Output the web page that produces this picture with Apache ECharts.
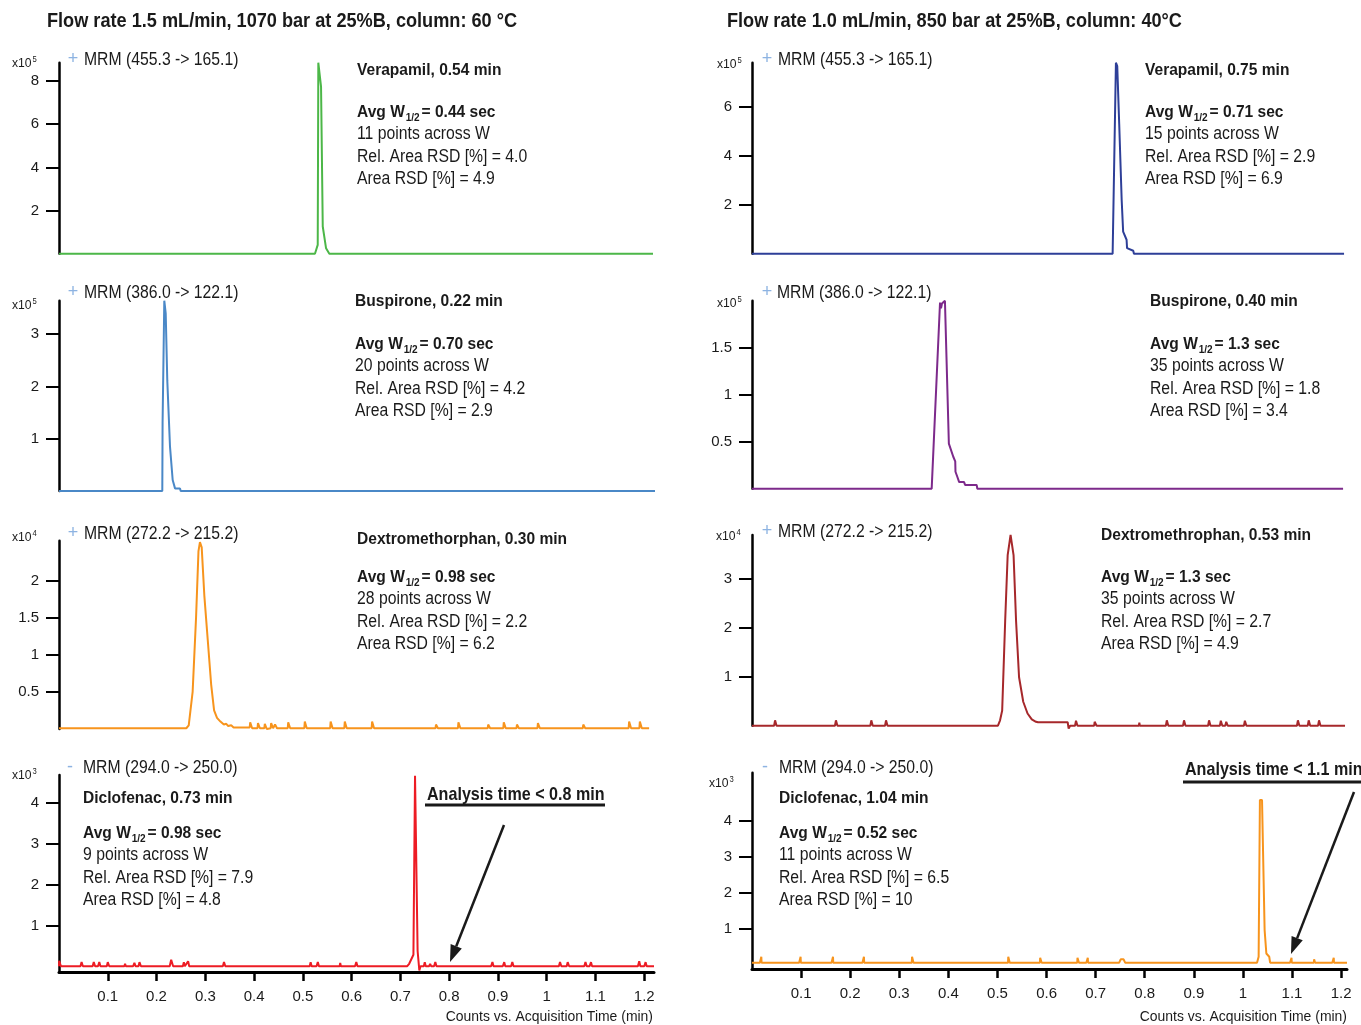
<!DOCTYPE html>
<html>
<head>
<meta charset="utf-8">
<title>MRM chromatograms</title>
<script src="https://cdn.jsdelivr.net/npm/echarts@6.0.0/dist/echarts.min.js"></script>
<style>
  html, body { margin: 0; padding: 0; background: #fff; }
  #main { width: 1361px; height: 1025px; }
</style>
</head>
<body>
<div id="main"></div>
<script>
// ---- data: [time (min), counts in the panel's x10^n unit] ----
var verapamilFast = [[0,0],[0.5248,0],[0.5305,0.41],[0.5317,8.85],[0.5373,7.74],[0.5408,1.26],[0.5476,0.25],[0.5543,0],[1.218,0]];
var verapamilSlow = [[0,0],[0.7346,0],[0.7413,7.8],[0.744,7.66],[0.748,5.3],[0.753,2.2],[0.756,0.9],[0.763,0.57],[0.764,0.23],[0.7766,0.12],[0.778,0],[1.206,0]];
var buspironeFast = [[0,0],[0.2118,0],[0.2124,1.3],[0.2159,3.64],[0.2188,3.4],[0.222,2.12],[0.2276,0.85],[0.2331,0.21],[0.2379,0.05],[0.2481,0.05],[0.2495,0],[1.222,0]];
var buspironeSlow = [[0,0],[0.366,0],[0.383,1.98],[0.385,1.92],[0.387,1.97],[0.393,2.0],[0.401,0.48],[0.410,0.34],[0.414,0.29],[0.4145,0.18],[0.418,0.13],[0.422,0.07],[0.432,0.07],[0.434,0.04],[0.4576,0.04],[0.459,0],[1.204,0]];
var dextroFast = [[0,0.01],[0.261,0.01],[0.266,0.05],[0.274,0.5],[0.281,1.5],[0.286,2.4],[0.289,2.52],[0.2926,2.45],[0.298,1.8],[0.305,1.2],[0.312,0.6],[0.318,0.25],[0.324,0.15],[0.331,0.1],[0.334,0.12],[0.338,0.06],[0.343,0.07],[0.347,0.04],[0.353,0.05],[0.358,0.02],
  [0.391,0.02],[0.392,0.09],[0.396,0.01],[0.407,0.01],[0.408,0.08],[0.412,0.01],[0.421,0.01],[0.422,0.07],[0.426,0],[0.434,0.01],[0.435,0.08],[0.439,0.01],
  [0.442,0.01],[0.443,0.06],[0.447,0.01],[0.469,0.01],[0.470,0.09],[0.474,0.01],[0.503,0.01],[0.504,0.1],[0.508,0.01],[0.556,0.01],[0.557,0.1],[0.561,0.01],
  [0.585,0.01],[0.586,0.1],[0.590,0.01],[0.641,0.01],[0.642,0.1],[0.646,0.01],[0.772,0.01],[0.773,0.06],[0.777,0.01],[0.818,0.01],[0.819,0.09],[0.823,0.01],
  [0.879,0.01],[0.880,0.06],[0.884,0.01],[0.911,0.01],[0.912,0.09],[0.916,0.01],[0.938,0.01],[0.939,0.06],[0.943,0.01],[0.981,0.01],[0.982,0.08],[0.986,0.01],
  [1.074,0.01],[1.075,0.06],[1.079,0.01],[1.168,0.01],[1.169,0.1],[1.173,0.01],[1.190,0.01],[1.191,0.1],[1.195,0.01],[1.21,0.01]];
var dextroSlow = [[0,0],[0.045,0],[0.047,0.11],[0.050,0],[0.169,0],[0.171,0.11],[0.174,0],[0.241,0],[0.243,0.11],[0.246,0],[0.271,0],[0.273,0.11],[0.276,0],
  [0.501,0],[0.5053,0.11],[0.5096,0.31],[0.5157,2.14],[0.5208,3.49],[0.5267,3.9],[0.5328,3.49],[0.5379,2.14],[0.544,0.99],[0.5525,0.49],[0.5613,0.25],[0.5699,0.13],[0.5784,0.08],[0.5827,0.07],[0.643,0.07],[0.645,-0.06],[0.648,0],
  [0.658,0],[0.660,0.1],[0.663,0],[0.697,0],[0.698,0.08],[0.701,0.08],[0.702,0],[0.788,0],[0.789,0.06],[0.790,0],[0.843,0],[0.845,0.11],[0.848,0],
  [0.878,0],[0.880,0.11],[0.883,0],[0.929,0],[0.931,0.11],[0.934,0],[0.953,0],[0.955,0.1],[0.958,0],[0.964,0],[0.966,0.08],[0.969,0],[1.002,0],[1.004,0.1],[1.007,0],
  [1.110,0],[1.112,0.11],[1.115,0],[1.132,0],[1.134,0.11],[1.137,0],[1.153,0],[1.155,0.11],[1.158,0],[1.208,0]];
var diclofenacFast = [[0,0.02],[0.0004,0.15],[0.004,0.02],[0.044,0.02],[0.0463,0.12],[0.049,0.02],[0.069,0.02],[0.0713,0.12],[0.074,0.02],[0.080,0.02],[0.0826,0.12],[0.085,0.02],
  [0.098,0.02],[0.100,0.12],[0.103,0.02],[0.134,0.02],[0.1355,0.08],[0.137,0.02],[0.152,0.02],[0.1546,0.1],[0.157,0.02],[0.163,0.02],[0.165,0.12],[0.168,0.02],
  [0.227,0.02],[0.230,0.18],[0.234,0.02],[0.254,0.02],[0.256,0.12],[0.258,0.02],[0.262,0.02],[0.2647,0.14],[0.267,0.02],[0.336,0.02],[0.3383,0.12],[0.341,0.02],
  [0.514,0.02],[0.516,0.12],[0.518,0.02],[0.528,0.02],[0.5307,0.12],[0.533,0.02],[0.5755,0.02],[0.5766,0.1],[0.578,0.02],[0.607,0.02],[0.6096,0.12],[0.612,0.02],
  [0.714,0.02],[0.718,0.08],[0.7213,0.05],[0.7267,0.3],[0.7300,4.65],[0.7326,4.65],[0.7353,0.39],[0.7388,-0.08],[0.7412,0.02],
  [0.748,0.02],[0.750,0.12],[0.752,0.02],[0.759,0.02],[0.761,0.08],[0.763,0.02],[0.769,0.02],[0.7716,0.12],[0.774,0.02],[0.886,0.02],[0.8887,0.12],[0.891,0.02],
  [0.910,0.02],[0.9129,0.12],[0.915,0.02],[0.927,0.02],[0.9295,0.12],[0.932,0.02],[1.025,0.02],[1.0273,0.12],[1.030,0.02],[1.041,0.02],[1.043,0.12],[1.046,0.02],
  [1.077,0.02],[1.0795,0.12],[1.082,0.02],[1.088,0.02],[1.0908,0.12],[1.093,0.02],[1.187,0.02],[1.1897,0.14],[1.192,0.02],[1.200,0.02],[1.2028,0.12],[1.205,0.02],[1.22,0.02]];
var diclofenacSlow = [[0,0.065],[0.016,0.065],[0.019,0.23],[0.0195,0.065],[0.096,0.065],[0.099,0.23],[0.0995,0.065],[0.162,0.065],[0.165,0.23],[0.1655,0.065],
  [0.225,0.065],[0.228,0.23],[0.2285,0.065],[0.3255,0.065],[0.326,0.23],[0.329,0.065],[0.5215,0.065],[0.522,0.23],[0.525,0.065],[0.5865,0.065],[0.587,0.2],[0.590,0.065],
  [0.6625,0.065],[0.663,0.2],[0.666,0.065],[0.681,0.065],[0.684,0.2],[0.6845,0.065],[0.748,0.065],[0.751,0.16],[0.757,0.16],[0.760,0.065],
  [1.0287,0.065],[1.032,0.23],[1.0346,4.58],[1.0389,4.58],[1.0442,0.97],[1.0477,0.32],[1.0536,0.23],[1.0554,0.065],
  [1.096,0.065],[1.099,0.2],[1.0995,0.065],[1.1445,0.065],[1.145,0.16],[1.1465,0.16],[1.147,0.065],[1.182,0.065],[1.185,0.2],[1.1855,0.065],[1.212,0.065]];

var xTickValues = [0.1, 0.2, 0.3, 0.4, 0.5, 0.6, 0.7, 0.8, 0.9, 1.0, 1.1, 1.2];
var columnTitles = ['Flow rate 1.5 mL/min, 1070 bar at 25%B, column: 60 °C', 'Flow rate 1.0 mL/min, 850 bar at 25%B, column: 40°C'];
var transitions = ['MRM (455.3 -> 165.1)', 'MRM (386.0 -> 122.1)', 'MRM (272.2 -> 215.2)', 'MRM (294.0 -> 250.0)'];

// ---- layout of the 8 panels (left column = 1.5 mL/min, right = 1.0 mL/min) ----
var panels = [
  {data: verapamilFast,  color: '#4CB748', left: 59,  top: 62.7,  height: 191,   xMax: 1.22,  yMin: 0,     yMax: 8.85, yTicks: [2,4,6,8],     exp: 5, axis: false},
  {data: verapamilSlow,  color: '#2E3F98', left: 752, top: 62.7,  height: 191,   xMax: 1.212, yMin: 0,     yMax: 7.8,  yTicks: [2,4,6],       exp: 5, axis: false},
  {data: buspironeFast,  color: '#4A88C7', left: 59,  top: 300.7, height: 190.3, xMax: 1.22,  yMin: 0,     yMax: 3.64, yTicks: [1,2,3],       exp: 5, axis: false},
  {data: buspironeSlow,  color: '#7D2A8B', left: 752, top: 300.7, height: 188,   xMax: 1.212, yMin: 0,     yMax: 2.0,  yTicks: [0.5,1,1.5],   exp: 5, axis: false},
  {data: dextroFast,     color: '#F7941D', left: 59,  top: 540.7, height: 188.3, xMax: 1.22,  yMin: 0,     yMax: 2.54, yTicks: [0.5,1,1.5,2], exp: 4, axis: false},
  {data: dextroSlow,     color: '#A6282B', left: 752, top: 535,   height: 190.7, xMax: 1.212, yMin: 0,     yMax: 3.9,  yTicks: [1,2,3],       exp: 4, axis: false},
  {data: diclofenacFast, color: '#ED1C24', left: 59,  top: 775,   height: 197,   xMax: 1.22,  yMin: -0.12, yMax: 4.67, yTicks: [1,2,3,4],     exp: 3, axis: true},
  {data: diclofenacSlow, color: '#F7941D', left: 752, top: 772.7, height: 196.3, xMax: 1.212, yMin: -0.11, yMax: 5.34, yTicks: [1,2,3,4],     exp: 3, axis: true}
];

// annotation blocks
var notes = [
  {x: 357,  y: 70,  avgY: 112, name: 'Verapamil, 0.54 min',        w: '0.44 sec', pts: '11', rel: '4.0', area: '4.9'},
  {x: 1145, y: 70,  avgY: 112, name: 'Verapamil, 0.75 min',        w: '0.71 sec', pts: '15', rel: '2.9', area: '6.9'},
  {x: 355,  y: 301, avgY: 344, name: 'Buspirone, 0.22 min',        w: '0.70 sec', pts: '20', rel: '4.2', area: '2.9'},
  {x: 1150, y: 301, avgY: 344, name: 'Buspirone, 0.40 min',        w: '1.3 sec',  pts: '35', rel: '1.8', area: '3.4'},
  {x: 357,  y: 539, avgY: 577, name: 'Dextromethorphan, 0.30 min', w: '0.98 sec', pts: '28', rel: '2.2', area: '6.2'},
  {x: 1101, y: 535, avgY: 577, name: 'Dextromethrophan, 0.53 min', w: '1.3 sec',  pts: '35', rel: '2.7', area: '4.9'},
  {x: 83,   y: 798, avgY: 833, name: 'Diclofenac, 0.73 min',       w: '0.98 sec', pts: '9',  rel: '7.9', area: '4.8'},
  {x: 779,  y: 798, avgY: 833, name: 'Diclofenac, 1.04 min',       w: '0.52 sec', pts: '11', rel: '6.5', area: '10'}
];
var mrmLabels = [
  {sign: '+', sx: 73,  tx: 84,  y: 60,  t: 0}, {sign: '+', sx: 767, tx: 778, y: 60,  t: 0},
  {sign: '+', sx: 73,  tx: 84,  y: 293, t: 1}, {sign: '+', sx: 767, tx: 777, y: 293, t: 1},
  {sign: '+', sx: 73,  tx: 84,  y: 534, t: 2}, {sign: '+', sx: 767, tx: 778, y: 532, t: 2},
  {sign: '-', sx: 70,  tx: 83,  y: 768, t: 3}, {sign: '-', sx: 765, tx: 779, y: 768, t: 3}
];
var expPos = [[12,63],[717,64],[12,305],[717,303],[12,537],[716,536],[12,775],[709,783]];

var FONT = "'Liberation Sans', Arial, sans-serif";
var INK = '#1a1a1a';

function txt(x, y, s, size, bold, sx, extra) {
  var st = {text: s, fill: INK, fontSize: size, fontWeight: bold ? 'bold' : 'normal', fontFamily: FONT, align: 'left', verticalAlign: 'middle'};
  if (extra) for (var k in extra) st[k] = extra[k];
  return {type: 'text', x: x, y: y, scaleX: sx || 1, silent: true, style: st};
}

function arrow(x1, y1, x2, y2) {
  var dx = x2 - x1, dy = y2 - y1, len = Math.sqrt(dx * dx + dy * dy);
  var ux = dx / len, uy = dy / len, hl = 17, hw = 6;
  var bx = x2 - ux * hl, by = y2 - uy * hl;
  return [
    {type: 'line', silent: true, shape: {x1: x1, y1: y1, x2: bx, y2: by}, style: {stroke: '#1a1a1a', lineWidth: 2.5}},
    {type: 'polygon', silent: true, shape: {points: [[x2, y2], [bx - uy * hw, by + ux * hw], [bx + uy * hw, by - ux * hw]]}, style: {fill: '#1a1a1a'}}
  ];
}

var graphics = [];
graphics.push(txt(47, 21, columnTitles[0], 21, true, 0.864));
graphics.push(txt(727, 21, columnTitles[1], 21, true, 0.864));

notes.forEach(function (n) {
  graphics.push(txt(n.x, n.y, n.name, 17, true, 0.915));
  graphics.push(txt(n.x, n.avgY, '{b|Avg W}{s|1/2}{b|= ' + n.w + '}', 17, true, 0.915, {
    rich: {
      b: {fontSize: 17, fontWeight: 'bold', fontFamily: FONT, lineHeight: 22},
      s: {fontSize: 11, fontWeight: 'bold', fontFamily: FONT, lineHeight: 5, verticalAlign: 'bottom', padding: [0, 2, 0, 1]}
    }
  }));
  graphics.push(txt(n.x, n.avgY + 22.5, n.pts + ' points across W', 17.5, false, 0.9));
  graphics.push(txt(n.x, n.avgY + 45, 'Rel. Area RSD [%] = ' + n.rel, 17.5, false, 0.9));
  graphics.push(txt(n.x, n.avgY + 67.5, 'Area RSD [%] = ' + n.area, 17.5, false, 0.9));
});

mrmLabels.forEach(function (m) {
  graphics.push(txt(m.sx, m.y - 1, m.sign, 18, false, 1, {fill: '#8DB3E2', align: 'center'}));
  graphics.push(txt(m.tx, m.y, transitions[m.t], 17.5, false, 0.9));
});

panels.forEach(function (p, i) {
  graphics.push(txt(expPos[i][0], expPos[i][1], '{a|x10}{p|' + p.exp + '}', 13.5, false, 0.9, {
    rich: {
      a: {fontSize: 13.5, fontFamily: FONT, lineHeight: 16},
      p: {fontSize: 8.5, fontFamily: FONT, lineHeight: 16, verticalAlign: 'top', padding: [0, 0, 6, 1]}
    }
  }));
});

// x axis names
graphics.push(txt(653, 1017, 'Counts vs. Acquisition Time (min)', 15, false, 0.93, {align: 'right'}));
graphics.push(txt(1347, 1017, 'Counts vs. Acquisition Time (min)', 15, false, 0.93, {align: 'right'}));

// analysis time callouts
graphics.push(txt(427, 795, 'Analysis time < 0.8 min', 18.5, true, 0.87));
graphics.push({type: 'line', silent: true, shape: {x1: 425, y1: 805, x2: 605, y2: 805}, style: {stroke: '#1a1a1a', lineWidth: 3}});
graphics.push(txt(1185, 770, 'Analysis time < 1.1 min', 18.5, true, 0.87));
graphics.push({type: 'line', silent: true, shape: {x1: 1183, y1: 782, x2: 1361, y2: 782}, style: {stroke: '#1a1a1a', lineWidth: 3}});
graphics = graphics.concat(arrow(504, 825, 450, 962));
graphics = graphics.concat(arrow(1354, 792, 1291, 954));

var option = {
  animation: false,
  backgroundColor: '#fff',
  grid: panels.map(function (p) {
    return {left: p.left, top: p.top, width: 595, height: p.height, outerBoundsMode: 'none'};
  }),
  xAxis: panels.map(function (p, i) {
    return {
      gridIndex: i, type: 'value', min: 0, max: p.xMax, show: p.axis,
      splitLine: {show: false},
      axisLine: {show: true, onZero: false, lineStyle: {color: '#000', width: 3}},
      axisTick: {show: true, length: 9, customValues: xTickValues, lineStyle: {color: '#000', width: 2.5}},
      axisLabel: {
        customValues: xTickValues, margin: 17, fontSize: 15, color: INK, fontFamily: FONT,
        formatter: function (v) { return String(+v.toFixed(1)); }
      }
    };
  }),
  yAxis: panels.map(function (p, i) {
    return {
      gridIndex: i, type: 'value', min: p.yMin, max: p.yMax,
      splitLine: {show: false},
      axisLine: {show: true, onZero: false, lineStyle: {color: '#000', width: 2.5}},
      axisTick: {show: true, length: 13, customValues: p.yTicks, lineStyle: {color: '#000', width: 2}},
      axisLabel: {
        customValues: p.yTicks, margin: 20, fontSize: 15, color: INK, fontFamily: FONT,
        formatter: function (v) { return String(v); }
      }
    };
  }),
  series: panels.map(function (p, i) {
    return {
      type: 'line', xAxisIndex: i, yAxisIndex: i, data: p.data,
      showSymbol: false, symbol: 'none', clip: false, silent: true,
      lineStyle: {color: p.color, width: 2}, itemStyle: {color: p.color}
    };
  }),
  graphic: {elements: graphics}
};

var myChart = echarts.init(document.getElementById('main'));
myChart.setOption(option);
</script>
</body>
</html>
